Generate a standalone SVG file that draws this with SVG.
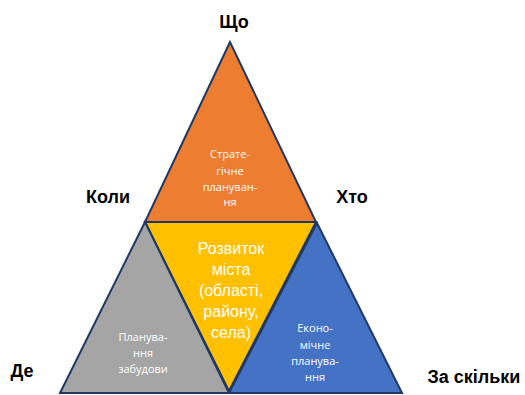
<svg xmlns="http://www.w3.org/2000/svg" width="525" height="395" viewBox="0 0 525 395">
<style>
.tri{stroke:#1f3864;stroke-width:2;stroke-linejoin:miter}
.lbl{font-family:"Liberation Sans",Arial,sans-serif;font-weight:bold;font-size:18px;fill:#000}
.in{font-family:"Open Sans","Liberation Sans",sans-serif;font-size:11px;fill:#fff;text-anchor:middle}
.big{font-family:"Liberation Sans",Arial,sans-serif;font-size:16px;fill:#fff;text-anchor:middle}
</style>
<rect width="525" height="395" fill="#fff"/>
<g id="strategic">
<polygon class="tri" points="230,42 145,222 316,222" fill="#ed7d31"/>
<text class="in" x="230" y="158">Страте-</text>
<text class="in" x="230" y="175">гічне</text>
<text class="in" x="230" y="191">плануван-</text>
<text class="in" x="230" y="206">ня</text>
</g>
<g id="development">
<polygon class="tri" points="145,222 316,222 229,391" fill="#ffc000"/>
<text class="big" x="231" y="254">Розвиток</text>
<text class="big" x="231" y="275">міста</text>
<text class="big" x="231" y="296">(області,</text>
<text class="big" x="231" y="317">району,</text>
<text class="big" x="231" y="338">села)</text>
</g>
<g id="building">
<polygon class="tri" points="145,222 60,393 229,393" fill="#a5a5a5"/>
<text class="in" x="143" y="341">Планува-</text>
<text class="in" x="143" y="357">ння</text>
<text class="in" x="143" y="373">забудови</text>
</g>
<g id="economic">
<polygon class="tri" points="317,223 229,393 402,393" fill="#4472c4"/>
<text class="in" x="315" y="332">Еконо-</text>
<text class="in" x="315" y="349">мічне</text>
<text class="in" x="315" y="365">планува-</text>
<text class="in" x="315" y="381">ння</text>
</g>
<g id="labels">
<text class="lbl" x="234" y="28" text-anchor="middle">Що</text>
<text class="lbl" x="108" y="203" text-anchor="middle">Коли</text>
<text class="lbl" x="352" y="203" text-anchor="middle">Хто</text>
<text class="lbl" x="22" y="377" text-anchor="middle">Де</text>
<text class="lbl" x="474" y="383" text-anchor="middle">За скільки</text>
</g>
<g id="connectors"></g>
</svg>
